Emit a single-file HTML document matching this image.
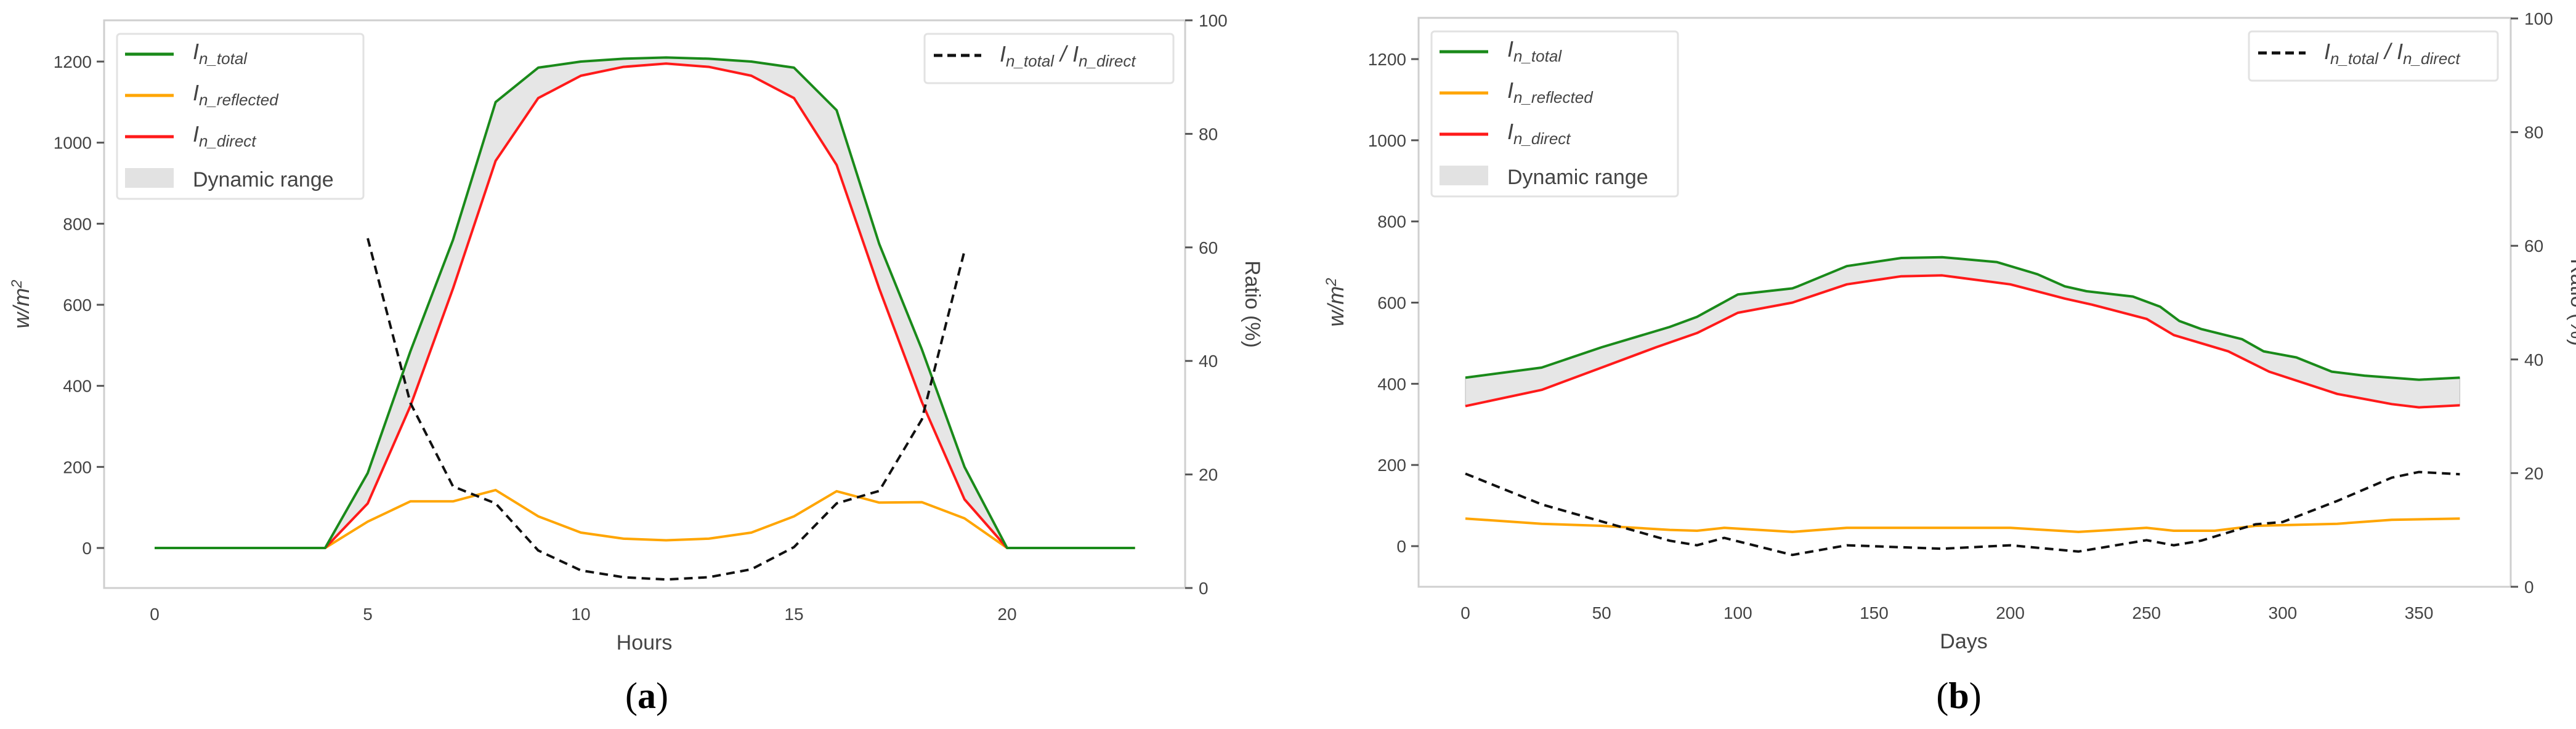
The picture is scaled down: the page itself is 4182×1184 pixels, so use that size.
<!DOCTYPE html>
<html><head><meta charset="utf-8">
<style>
body{margin:0;background:#fff;}
svg text{font-family:"Liberation Sans",sans-serif;fill:#444;}
</style></head>
<body>
<svg id="fig" width="4182" height="1179" viewBox="0 0 4182 1179" xmlns="http://www.w3.org/2000/svg"></svg>
<script>
// Panel (a) data
const hours = [0,1,2,3,4,5,6,7,8,9,10,11,12,13,14,15,16,17,18,19,20,21,22,23];
const hTotal = [0,0,0,0,0,185,485,760,1100,1185,1200,1207,1210,1207,1200,1185,1080,750,490,200,0,0,0,0];
const hDirect = [0,0,0,0,0,110,350,640,955,1110,1165,1187,1195,1187,1165,1110,945,640,360,120,0,0,0,0];
const hReflected = [0,0,0,0,0,65,115,115,143,78,38,23,19,23,38,78,140,112,113,73,0,0,0,0];
const hRatioX = [5,6,7,8,9,10,11,12,13,14,15,16,17,18,19];
const hRatio = [61.6,32.6,17.9,14.9,6.6,3.1,1.9,1.5,1.9,3.3,7.2,14.9,17.1,29.7,59.4];
const hXTicks = [0,5,10,15,20];
// Panel (b) data
const daysT = [0,28,50,75,85,100,120,122,140,160,175,195,210,220,228,245,255,262,270,285,293,305,318,330,350,365];
const dTotal = [415,440,490,540,565,620,635,640,690,710,712,700,670,640,628,615,590,555,535,510,480,465,430,420,410,415];
const daysD = [0,28,50,70,85,100,120,140,160,175,200,220,230,250,260,280,295,320,340,350,365];
const dDirect = [345,385,440,490,525,575,600,645,665,667,645,610,595,560,520,480,430,375,350,342,347];
const daysR = [0,28,50,75,85,95,120,140,200,225,250,260,275,290,320,340,365];
const dReflected = [68,55,50,40,38,45,35,45,45,35,45,38,38,50,55,65,68];
const daysQ = [0,28,50,75,85,95,120,140,175,200,225,250,260,270,290,300,320,340,350,365];
const dRatio = [19.9,14.5,11.5,8.1,7.3,8.6,5.6,7.3,6.7,7.3,6.2,8.2,7.3,8.1,11,11.4,15.1,19.2,20.2,19.8];
const dXTicks = [0,50,100,150,200,250,300,350];
const yTicks = [0,200,400,600,800,1000,1200];
const rTicks = [0,20,40,60,80,100];

const NS='http://www.w3.org/2000/svg';
const svg=document.getElementById('fig');
function mk(tag,attrs,parent){const e=document.createElementNS(NS,tag);for(const k in attrs)e.setAttribute(k,attrs[k]);(parent||svg).appendChild(e);return e;}

function interp(xs,ys,x){for(let i=0;i<xs.length-1;i++){if(x>=xs[i]&&x<=xs[i+1]){const t=(x-xs[i])/(xs[i+1]-xs[i]);return ys[i]+t*(ys[i+1]-ys[i]);}}return ys[ys.length-1];}

function legendLabel(g,x,y,sub,extra){
  const t=mk('text',{x:x,y:y,'font-size':36,'font-style':'italic'},g);
  
  
  t.innerHTML='I<tspan font-size="26" dy="8">n_'+sub+'</tspan>'+(extra||'');
  return t;
}

function panel(p){
  const g=mk('g',{});
  
  
  const X=v=>p.x0+(v-p.xmin)*p.xs;
  const Y=v=>p.y0-v*p.ys;
  const R=v=>p.rb-v*(p.rb-p.rt)/100;
  // frame
  const fr=mk('rect',{x:p.L,y:p.T,width:p.Rr-p.L,height:p.B-p.T,fill:'none',stroke:'#cfcfcf','stroke-width':3},g);
  
  
  // left ticks
  yTicks.forEach(v=>{
    const tk=mk('line',{x1:p.L-12,x2:p.L,y1:Y(v),y2:Y(v),stroke:'#555','stroke-width':3},g);
    
    
    const t=mk('text',{x:p.L-20,y:Y(v)+10,'font-size':28,'text-anchor':'end'},g);
    
    
    t.textContent=v;
  });
  rTicks.forEach(v=>{
    const tk=mk('line',{x1:p.Rr,x2:p.Rr+12,y1:R(v),y2:R(v),stroke:'#555','stroke-width':3},g);
    
    
    const t=mk('text',{x:p.Rr+22,y:R(v)+10,'font-size':28},g);
    
    
    t.textContent=v;
  });
  p.xticks.forEach(v=>{
    const t=mk('text',{x:X(v),y:p.B+52,'font-size':28,'text-anchor':'middle'},g);
    
    
    t.textContent=v;
  });
  // fill
  let pts=[];
  const fx=[...new Set([...p.tx,...p.dx])].sort((a,b)=>a-b);
  fx.forEach(x=>pts.push(X(x)+','+Y(interp(p.tx,p.tv,x))));
  fx.slice().reverse().forEach(x=>pts.push(X(x)+','+Y(interp(p.dx,p.dv,x))));
  const poly=mk('polygon',{points:pts.join(' '),fill:'#e6e6e6',stroke:'#bbb','stroke-width':1},g);
  
  
  function line(xs,ys,fy,col,name,dash){
    const d=xs.map((x,i)=>(i?'L':'M')+X(x).toFixed(1)+','+fy(ys[i]).toFixed(1)).join('');
    const a={d:d,fill:'none',stroke:col,'stroke-width':4,'stroke-linejoin':'round'};
    if(dash)a['stroke-dasharray']=dash;
    const e=mk('path',a,g);
    
    
  }
  line(p.rx,p.rv,Y,'#ffa500','reflected-line');
  line(p.dx,p.dv,Y,'#ff1a1a','direct-line');
  line(p.tx,p.tv,Y,'#1a8a1a','total-line');
  line(p.qx,p.qv,R,'#111','ratio-line','14,9');
  // titles
  const xt=mk('text',{x:p.xtx,y:p.B+100,'font-size':34,'text-anchor':'middle'},g);
  
  
  xt.textContent=p.xlabel;
  const yt=mk('text',{x:0,y:0,'font-size':36,'font-style':'italic','text-anchor':'middle',transform:'translate('+(p.L-122)+','+((p.T+p.B)/2)+') rotate(-90)'},g);
  
  
  yt.innerHTML='w/m<tspan font-size="24" dy="-12">2</tspan>';
  const rt=mk('text',{x:0,y:0,'font-size':34,'text-anchor':'middle',transform:'translate('+(p.Rr+98)+','+((p.T+p.B)/2)+') rotate(90)'},g);
  
  
  rt.textContent='Ratio (%)';
  const cap=mk('text',{x:p.capx,y:1150,'font-size':60,'text-anchor':'middle','font-family':'Liberation Serif'},g);
  
  
  cap.setAttribute('style','font-family:"Liberation Serif",serif;fill:#000');
  cap.innerHTML='(<tspan font-weight="bold">'+p.cap+'</tspan>)';
  // left legend
  const lg=mk('g',{},g);
  
  
  mk('rect',{x:p.lgx,y:p.lgy,width:400,height:268,rx:5,fill:'#fff',stroke:'#e2e2e2','stroke-width':3},lg);
  const rows=[['#1a8a1a','total'],['#ffa500','reflected'],['#ff1a1a','direct']];
  rows.forEach((r,i)=>{
    const yy=p.lgy+33+i*67;
    const ln=mk('line',{x1:p.lgx+13,x2:p.lgx+92,y1:yy,y2:yy,stroke:r[0],'stroke-width':5},lg);
    
    
    legendLabel(lg,p.lgx+123,yy+8,r[1]);
  });
  const sw=mk('rect',{x:p.lgx+13,y:p.lgy+218,width:79,height:32,fill:'#e2e2e2'},lg);
  
  
  const dt=mk('text',{x:p.lgx+123,y:p.lgy+248,'font-size':34},lg);
  
  
  dt.textContent='Dynamic range';
  // right legend
  const rg=mk('g',{},g);
  
  
  mk('rect',{x:p.rlx,y:p.lgy,width:404,height:80,rx:5,fill:'#fff',stroke:'#e2e2e2','stroke-width':3},rg);
  const rl=mk('line',{x1:p.rlx+15,x2:p.rlx+92,y1:p.lgy+35,y2:p.lgy+35,stroke:'#111','stroke-width':5,'stroke-dasharray':'14,8'},rg);
  
  
  const t=legendLabel(rg,p.rlx+122,p.lgy+45,'total');
  t.innerHTML='I<tspan font-size="26" dy="8">n_total</tspan><tspan dy="-8"> / I</tspan><tspan font-size="26" dy="8">n_direct</tspan>';
}

panel({name:'panel-a',L:169,Rr:1924,T:33,B:955,x0:251,xmin:0,xs:69.2,y0:890,ys:790/1200,rt:33,rb:955,
  xticks:hXTicks,tx:hours,tv:hTotal,dx:hours,dv:hDirect,rx:hours,rv:hReflected,qx:hRatioX,qv:hRatio,
  xlabel:'Hours',xtx:1046,capx:1050,cap:'a',lgx:190,lgy:55,rlx:1501});
panel({name:'panel-b',L:2303,Rr:4076,T:29,B:953,x0:2379,xmin:0,xs:4.423,y0:887,ys:791/1200,rt:30,rb:953,
  xticks:dXTicks,tx:daysT,tv:dTotal,dx:daysD,dv:dDirect,rx:daysR,rv:dReflected,qx:daysQ,qv:dRatio,
  xlabel:'Days',xtx:3188,capx:3180,cap:'b',lgx:2324,lgy:51,rlx:3651});
</script>
</body></html>
